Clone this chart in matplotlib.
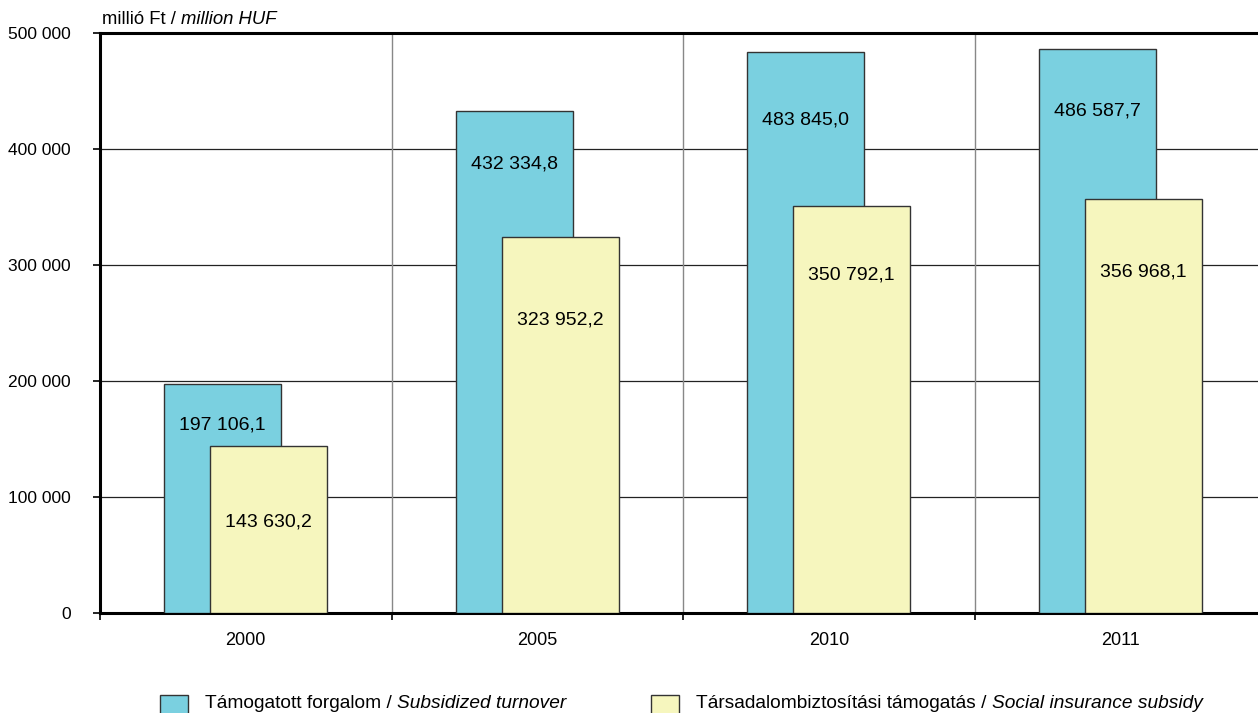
import matplotlib
matplotlib.use('Agg')
import matplotlib.pyplot as plt
from matplotlib.patches import Rectangle
import numpy as np

plt.rcParams['font.family'] = ['Liberation Sans', 'DejaVu Sans']

# adatok
years = ['2000', '2005', '2010', '2011']
subsidized_turnover = [197106.1, 432334.8, 483845.0, 486587.7]
social_insurance = [143630.2, 323952.2, 350792.1, 356968.1]
yticks = [0, 100000, 200000, 300000, 400000, 500000]

# a címkék függőleges helye (Excel-szerű elhelyezés)
label_y_blue = [162000, 387000, 425000, 432800]
label_y_yellow = [78400, 252600, 291400, 294000]

BLUE = '#7ad0e0'
YELLOW = '#f6f6be'
EDGE = '#333333'

def fmt(v):
    s = f'{v:,.1f}'
    return s.replace(',', ' ').replace('.', ',')

W, H = 1258, 713
fig = plt.figure(figsize=(W / 100, H / 100), dpi=100)
ax = fig.add_axes([100 / W, 100 / H, 1166 / W, 580 / H])

x = np.arange(len(years))
width = 0.40
off = 0.079

ax.bar(x - off, subsidized_turnover, width, color=BLUE, edgecolor=EDGE, lw=1.0, zorder=3)
ax.bar(x + off, social_insurance, width, color=YELLOW, edgecolor=EDGE, lw=1.0, zorder=4)

for i in range(len(years)):
    ax.text(x[i] - off, label_y_blue[i], fmt(subsidized_turnover[i]),
            ha='center', va='center', fontsize=14, zorder=5)
    ax.text(x[i] + off, label_y_yellow[i], fmt(social_insurance[i]),
            ha='center', va='center', fontsize=14, zorder=5)

ax.set_xlim(-0.5, len(years) - 0.5)
ax.set_ylim(0, 500000)
ax.set_yticks(yticks)
ax.set_yticklabels([f'{v:,}'.replace(',', ' ') for v in yticks])

for v in yticks[1:-1]:
    ax.axhline(v, color='#222222', lw=0.9, zorder=1)
ax.axhline(500000, color='black', lw=2.2, zorder=2, clip_on=False)
for b in np.arange(0.5, len(years) - 0.5, 1.0):
    ax.axvline(b, color='#888888', lw=1.0, zorder=1)

ax.set_xticks(x)
ax.set_xticklabels(years)
ax.set_xticks(np.arange(-0.5, len(years), 1.0), minor=True)
ax.tick_params(axis='x', which='major', length=0, pad=13.5, labelsize=13)
ax.tick_params(axis='x', which='minor', length=5, width=1.2, direction='out')
ax.tick_params(axis='y', length=5, width=1.2, direction='out', pad=16, labelsize=12.5)

for s in ['top', 'right']:
    ax.spines[s].set_visible(False)
ax.spines['left'].set_linewidth(2.2)
ax.spines['bottom'].set_linewidth(2.2)

# egység
t1 = fig.text(102 / W, 1 - 20 / H, 'millió Ft / ', fontsize=13.3, va='center')
fig.canvas.draw()
r = fig.canvas.get_renderer()
bb = t1.get_window_extent(r)
fig.text(bb.x1 / W, 1 - 20 / H, 'million HUF', fontsize=13.3, style='italic', va='center')

# jelmagyarázat
legend_items = [
    (BLUE, 'Támogatott forgalom / ', 'Subsidized turnover', 160),
    (YELLOW, 'Társadalombiztosítási támogatás / ', 'Social insurance subsidy', 651),
]
for col, txt, itxt, px in legend_items:
    fig.patches.append(Rectangle((px / W, (713 - 723) / H), 28 / W, 28 / H,
                                 transform=fig.transFigure, facecolor=col,
                                 edgecolor=EDGE, lw=1.0))
    ta = fig.text((px + 45) / W, 1 - 704 / H, txt, fontsize=13.8, va='center')
    bb = ta.get_window_extent(r)
    fig.text(bb.x1 / W, 1 - 704 / H, itxt, fontsize=13.8, style='italic', va='center')

fig.savefig('out.png', dpi=100)
